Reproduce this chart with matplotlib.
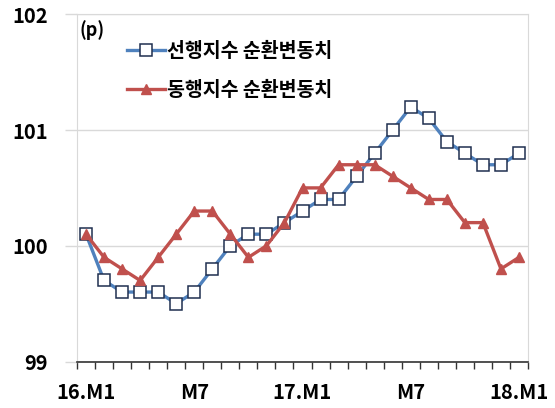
import matplotlib
matplotlib.use("Agg")
import matplotlib.pyplot as plt

plt.rcParams['font.family'] = ['Noto Sans CJK KR', 'DejaVu Sans']
plt.rcParams['font.weight'] = 'bold'

# 16.M1 ~ 18.M1, monthly
months = list(range(25))
tick_pos = [0, 6, 12, 18, 24]
tick_labels = ['16.M1', 'M7', '17.M1', 'M7', '18.M1']

leading = [100.1, 99.7, 99.6, 99.6, 99.6, 99.5, 99.6, 99.8, 100.0, 100.1, 100.1, 100.2,
           100.3, 100.4, 100.4, 100.6, 100.8, 101.0, 101.2, 101.1, 100.9, 100.8, 100.7, 100.7, 100.8]
coincident = [100.1, 99.9, 99.8, 99.7, 99.9, 100.1, 100.3, 100.3, 100.1, 99.9, 100.0, 100.2,
              100.5, 100.5, 100.7, 100.7, 100.7, 100.6, 100.5, 100.4, 100.4, 100.2, 100.2, 99.8, 99.9]

label_leading = '선행지수 순환변동치'
label_coincident = '동행지수 순환변동치'

fig = plt.figure(figsize=(5.55, 4.08), dpi=100)
ax = fig.add_axes([77 / 555, 1 - 361.5 / 408, 451 / 555, 347.2 / 408])

ax.plot(months, leading, color='#4F81BD', lw=2.4, marker='s', ms=8.2,
        mfc='white', mec='#1F2F4F', mew=1.1, label=label_leading, zorder=3)
ax.plot(months, coincident, color='#C0504D', lw=2.4, marker='^', ms=7.5,
        mfc='#C0504D', mec='#C0504D', label=label_coincident, zorder=4)

ax.set_xlim(-0.5, 24.5)
ax.set_ylim(99, 102)
ax.set_yticks([99, 100, 101, 102])
ax.yaxis.grid(True, color='#D9D9D9', lw=1)
ax.set_axisbelow(True)

# category boundary ticks, labels on minor ticks
ax.set_xticks([i - 0.5 for i in range(26)])
ax.set_xticklabels([])
ax.set_xticks(tick_pos, minor=True)
ax.set_xticklabels(tick_labels, minor=True)
ax.tick_params(axis='x', which='major', length=5, width=1, color='#333333', direction='out')
ax.tick_params(axis='x', which='minor', length=0, pad=15, labelsize=14.5)
ax.tick_params(axis='y', length=9, width=1, color='#D9D9D9', labelsize=14.5, pad=12)

for s in ['top', 'right', 'left']:
    ax.spines[s].set_color('#D9D9D9')
ax.spines['bottom'].set_color('#333333')
ax.spines['bottom'].set_linewidth(1.2)

fig.text(92 / 555, 1 - 30 / 408, '(p)', fontsize=13, fontweight='bold',
         ha='center', va='center')

leg = ax.legend(loc='upper left', bbox_to_anchor=(0.11, 0.92), frameon=False,
                fontsize=14, handlelength=2.0, handletextpad=0.1, labelspacing=1.0,
                borderpad=0, borderaxespad=0)

fig.savefig('out.png', dpi=100)
